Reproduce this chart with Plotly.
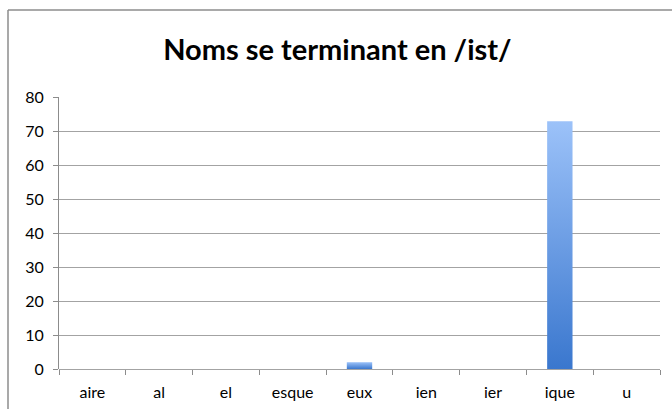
import plotly.graph_objects as go

categories = ["aire", "al", "el", "esque", "eux", "ien", "ier", "ique", "u"]
values = [0, 0, 0, 0, 2, 0, 0, 73, 0]
y_ticks = [0, 10, 20, 30, 40, 50, 60, 70, 80]

BAR_HALF = 0.19

fig = go.Figure()
for i, (cat, v) in enumerate(zip(categories, values)):
    if v <= 0:
        continue
    fig.add_trace(go.Scatter(
        x=[i - BAR_HALF, i + BAR_HALF, i + BAR_HALF, i - BAR_HALF, i - BAR_HALF],
        y=[0, 0, v, v, 0],
        mode="lines",
        line=dict(width=0),
        fill="toself",
        fillgradient=dict(type="vertical", start=0, stop=v,
                          colorscale=[[0, "#3A77CE"], [1, "#9CC2F9"]]),
        name=cat,
        hovertemplate=f"{cat}: {v}<extra></extra>",
        showlegend=False,
    ))

FONT = "Lato, 'Open Sans', sans-serif"
BX = (8 - 59) / 601
BY = (369 - 10) / 272

fig.update_layout(
    width=672, height=409,
    margin=dict(l=59, r=12, t=97, b=40),
    paper_bgcolor="white", plot_bgcolor="white",
    font=dict(family=FONT, color="#000000", size=16),
    title=dict(text="<b>Noms se terminant en /ist/</b>", x=0.502, xanchor="center",
               y=1 - 50 / 409, yanchor="middle",
               font=dict(size=29, family=FONT, color="#000000")),
    xaxis=dict(range=[-0.5, len(categories) - 0.5], tickvals=list(range(len(categories))),
               ticktext=categories, ticks="", showgrid=False, zeroline=False,
               showline=False, fixedrange=True, ticklabelstandoff=12, automargin=False,
               minor=dict(tick0=-0.5, dtick=1, ticks="outside", ticklen=5,
                          tickcolor="#8c8c8c", showgrid=False),
               tickfont=dict(size=16)),
    yaxis=dict(range=[0, 80.15], tickvals=y_ticks, showgrid=True, gridcolor="#a3a3a3",
               gridwidth=1, zeroline=True, zerolinecolor="#a3a3a3", zerolinewidth=1,
               showline=True, linecolor="#8c8c8c", linewidth=1, automargin=False,
               ticks="outside", ticklen=5, tickcolor="#8c8c8c", fixedrange=True,
               ticklabelstandoff=6, tickfont=dict(size=16)),
    shapes=[
        dict(type="line", xref="paper", yref="paper", x0=BX, x1=1.2, y0=BY, y1=BY,
             line=dict(color="#8c8c8c", width=1.5), layer="below"),
        dict(type="line", xref="paper", yref="paper", x0=BX, x1=BX, y0=-0.5, y1=BY,
             line=dict(color="#8c8c8c", width=1.5), layer="below"),
    ],
)

fig.write_html("out.html", config={"displayModeBar": False},
               post_script="document.body.style.margin='0';")
